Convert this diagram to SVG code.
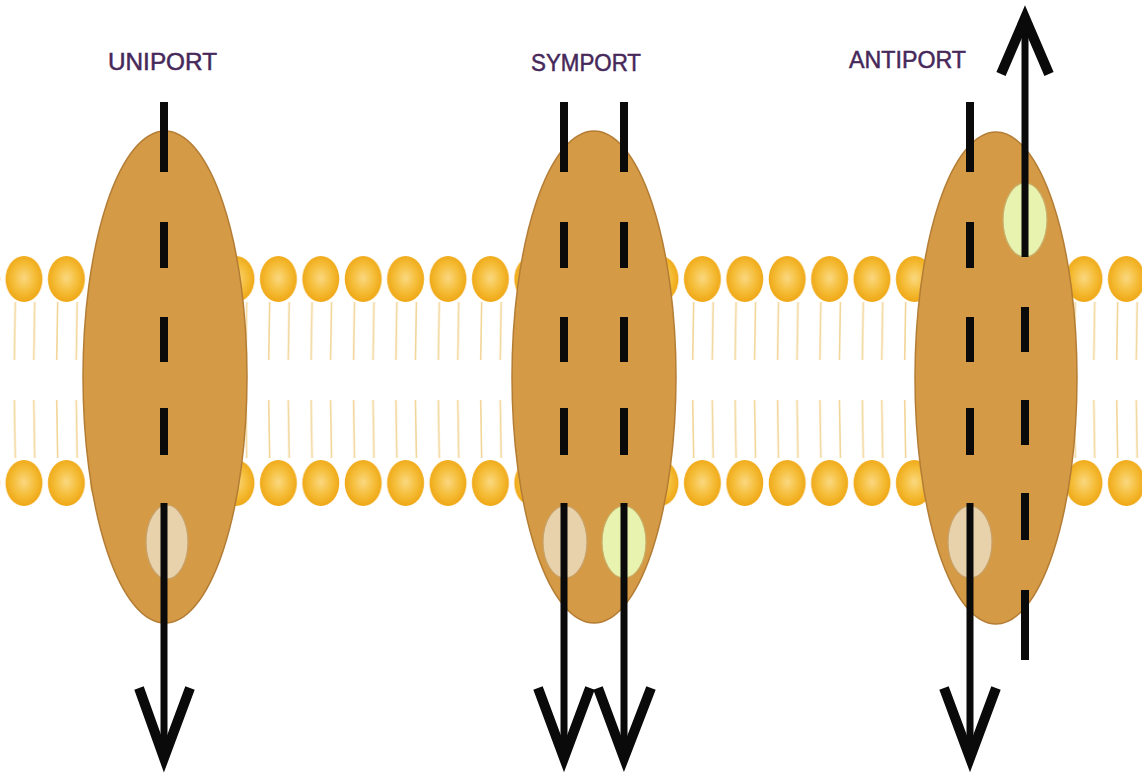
<svg xmlns="http://www.w3.org/2000/svg" width="1142" height="780" viewBox="0 0 1142 780">
  <defs>
    <style>
      .label { font-family: "Liberation Sans", Arial, sans-serif; font-size: 24px; fill: #46285a; stroke: #46285a; stroke-width: 0.5; }
      .protein { fill: #d49a45; stroke: #b47d35; stroke-width: 1.5; }
      .solute-a { fill: #e8d2ab; stroke: #c9a26a; stroke-width: 1.2; }
      .solute-b { fill: #e8f3b0; stroke: #c9b06a; stroke-width: 1.2; }
      .tail { stroke: #f2d597; stroke-width: 1.6; fill: none; }
      .dash { stroke: #0a0a0a; stroke-width: 8; fill: none; stroke-linecap: butt; }
      .shaft { stroke: #0a0a0a; stroke-width: 7; fill: none; stroke-linecap: butt; }
      .head { stroke: #0a0a0a; stroke-width: 10; fill: none; stroke-linejoin: miter; stroke-linecap: butt; }
    </style>
    <radialGradient id="headFill" cx="50%" cy="48%" r="55%">
      <stop offset="0" stop-color="#fad880"/>
      <stop offset="0.55" stop-color="#f5bd38"/>
      <stop offset="1" stop-color="#eea410"/>
    </radialGradient>
    <!-- one phospholipid pair (outer head + tails, inner tails + head), tiled along the bilayer -->
    <pattern id="lipids" patternUnits="userSpaceOnUse" x="2.8" y="250" width="42.4" height="260">
      <ellipse cx="21.2" cy="29" rx="18.5" ry="23" fill="url(#headFill)"/>
      <path class="tail" d="M12.5 52 L11.5 110 M32 52 L31 110"/>
      <path class="tail" d="M11.5 150 L12.5 208 M31 150 L32 208"/>
      <ellipse cx="21.2" cy="233" rx="18.5" ry="23" fill="url(#headFill)"/>
    </pattern>
  </defs>

  <rect width="1142" height="780" fill="#ffffff"/>

  <!-- lipid bilayer -->
  <g id="membrane">
    <rect x="0" y="250" width="1142" height="260" fill="url(#lipids)"/>
  </g>

  <!-- uniport carrier -->
  <g id="uniport">
    <text class="label" x="108" y="70" textLength="109" lengthAdjust="spacingAndGlyphs">UNIPORT</text>
    <ellipse class="protein" cx="165" cy="377" rx="82" ry="246"/>
    <ellipse class="solute-a" cx="167" cy="542" rx="21" ry="37"/>
  </g>

  <!-- symport carrier -->
  <g id="symport">
    <text class="label" x="531" y="71" textLength="110" lengthAdjust="spacingAndGlyphs">SYMPORT</text>
    <ellipse class="protein" cx="594" cy="377" rx="82" ry="246"/>
    <ellipse class="solute-a" cx="565" cy="542" rx="22" ry="36"/>
    <ellipse class="solute-b" cx="624" cy="542" rx="22" ry="36"/>
  </g>

  <!-- antiport carrier -->
  <g id="antiport">
    <text class="label" x="849" y="68" textLength="117" lengthAdjust="spacingAndGlyphs">ANTIPORT</text>
    <ellipse class="protein" cx="996" cy="378" rx="81" ry="246"/>
    <ellipse class="solute-a" cx="970" cy="542" rx="22" ry="36"/>
    <ellipse class="solute-b" cx="1025" cy="220" rx="22" ry="37"/>
  </g>

  <!-- transport directions -->
  <g id="connectors">
    <!-- uniport: inward -->
    <path class="dash" d="M164 102 V172 M164 222 V268 M164 317 V362 M164 408 V455"/>
    <path class="shaft" d="M164 503 V756"/>
    <path class="head" d="M139 688 L164 758 L190 688"/>

    <!-- symport: both inward -->
    <path class="dash" d="M564 102 V172 M564 222 V268 M564 317 V362 M564 408 V455"/>
    <path class="shaft" d="M564 503 V756"/>
    <path class="head" d="M538 688 L564 758 L590 688"/>
    <path class="dash" d="M624 102 V172 M624 222 V268 M624 317 V362 M624 408 V455"/>
    <path class="shaft" d="M624 503 V756"/>
    <path class="head" d="M598 688 L624 758 L651 688"/>

    <!-- antiport: one inward, one outward -->
    <path class="dash" d="M970 102 V172 M970 222 V268 M970 317 V362 M970 408 V455"/>
    <path class="shaft" d="M970 503 V756"/>
    <path class="head" d="M944 688 L970 758 L996 688"/>
    <path class="dash" d="M1025 307 V352 M1025 400 V445 M1025 493 V540 M1025 590 V660"/>
    <path class="shaft" d="M1025 257 V22"/>
    <path class="head" d="M1001 74 L1025 18 L1049 74"/>
  </g>
</svg>
